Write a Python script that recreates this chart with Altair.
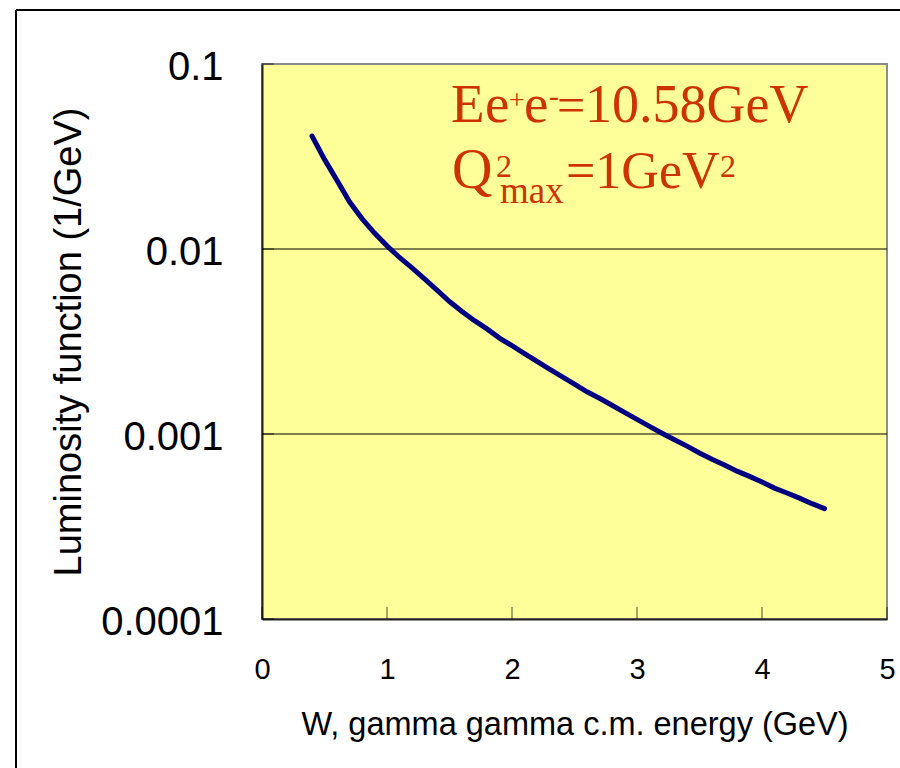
import altair as alt
import pandas as pd

# gamma-gamma luminosity function vs. c.m. energy W
w_gev = [0.4, 0.5, 0.6, 0.7, 0.8, 0.9, 1.0, 1.1, 1.2, 1.3, 1.4, 1.5, 1.6, 1.7,
         1.8, 1.9, 2.0, 2.1, 2.2, 2.3, 2.4, 2.5, 2.6, 2.7, 2.8, 2.9, 3.0, 3.1,
         3.2, 3.3, 3.4, 3.5, 3.6, 3.7, 3.8, 3.9, 4.0, 4.1, 4.2, 4.3, 4.4, 4.5]
lum = [0.0408, 0.0305, 0.0235, 0.0180, 0.0146, 0.0122, 0.0104, 0.0090, 0.0079,
       0.0069, 0.0060, 0.0052, 0.0046, 0.0041, 0.0037, 0.0033, 0.0030, 0.00272,
       0.00247, 0.00224, 0.00204, 0.00186, 0.00169, 0.00156, 0.00143, 0.00131,
       0.00120, 0.00110, 0.00101, 0.00093, 0.00086, 0.00079, 0.00073, 0.00068,
       0.00063, 0.00059, 0.00055, 0.00051, 0.00048, 0.00045, 0.00042, 0.000395]

x_ticks = [0, 1, 2, 3, 4, 5]
y_ticks = [0.0001, 0.001, 0.01, 0.1]
grid_vals = [0.001, 0.01]

W, H = 625, 555
SANS = "Liberation Sans"
SERIF = "Liberation Serif"
RED = "#CC3300"

df = pd.DataFrame({"W": w_gev, "L": lum})

x_scale = alt.Scale(domain=[0, 5], nice=False)
y_scale = alt.Scale(type="log", domain=[0.0001, 0.1], nice=False)

x_axis = alt.Axis(
    values=x_ticks, format="d", ticks=False, tickSize=0, grid=False,
    labelFlush=False,
    domainColor="#222222", domainWidth=2,
    labelFont=SANS, labelFontSize=29, labelColor="black", labelPadding=36,
    title="W, gamma gamma c.m. energy (GeV)", titleFont=SANS, titleFontSize=32.5,
    titleFontWeight="normal", titleColor="black", titlePadding=24,
)
y_axis = alt.Axis(
    values=y_ticks, format="~g", ticks=False, tickSize=0, grid=False,
    labelFlush=False,
    domainColor="#222222", domainWidth=2,
    labelFont=SANS, labelFontSize=40, labelColor="black", labelPadding=39,
    labelOffset=3,
    title="Luminosity function (1/GeV)", titleFont=SANS, titleFontSize=38,
    titleFontWeight="normal", titleColor="black", titlePadding=12,
)

# horizontal grid lines inside the plot area
grid = alt.Chart(pd.DataFrame({"g": grid_vals})).mark_rule(
    color="black", strokeWidth=1
).encode(y=alt.Y("g:Q", scale=y_scale))

curve = alt.Chart(df).mark_line(color="#000080", strokeWidth=5, strokeCap="round").encode(
    x=alt.X("W:Q", scale=x_scale, axis=x_axis),
    y=alt.Y("L:Q", scale=y_scale, axis=y_axis),
)

# inward tick marks along the bottom and left edges
xt = alt.Chart(pd.DataFrame({"t": x_ticks})).mark_tick(
    color="black", thickness=1, size=12
).encode(x=alt.X("t:Q", scale=x_scale), y=alt.value(H - 6))

yt = alt.Chart(pd.DataFrame({"t": y_ticks})).mark_tick(
    color="black", thickness=1, size=12
).encode(y=alt.Y("t:Q", scale=y_scale), x=alt.value(6))

# outer frame
frame_left = alt.Chart().mark_rule(color="black", strokeWidth=2).encode(
    x=alt.value(-246), y=alt.value(-54), y2=alt.value(H + 200))
frame_top = alt.Chart().mark_rule(color="black", strokeWidth=2).encode(
    x=alt.value(-246), x2=alt.value(W + 100), y=alt.value(-54))

# annotation: beam energy and Q^2 cut
segments = [
    # text, x, y (baseline), size
    ("E", 189, 58, 55),
    ("e", 223, 58, 55),
    ("+", 247, 45, 28),
    ("e", 262, 58, 55),
    ("-", 287, 42, 30),
    ("=", 295, 58, 50),
    ("10.58GeV", 323, 58, 54),
    ("Q", 190, 124, 56),
    ("2", 234, 113, 32),
    ("max", 238, 139, 37),
    ("=1GeV", 304, 124, 52),
    ("2", 458, 113, 32),
]
notes = [
    alt.Chart().mark_text(
        text=t, font=SERIF, fontSize=s, color=RED, align="left", baseline="alphabetic"
    ).encode(x=alt.value(x), y=alt.value(y))
    for t, x, y, s in segments
]

chart = alt.layer(frame_left, frame_top, grid, curve, xt, yt, *notes).properties(
    width=W, height=H,
    autosize=alt.AutoSizeParams(type="none"),
    padding={"left": 262, "top": 64, "right": 13, "bottom": 149},
    background="white",
).configure_view(
    fill="#FFFF99", stroke="#8C8C8C", strokeWidth=2
)

chart.save("out.html", embed_options={"renderer": "svg", "actions": False})
